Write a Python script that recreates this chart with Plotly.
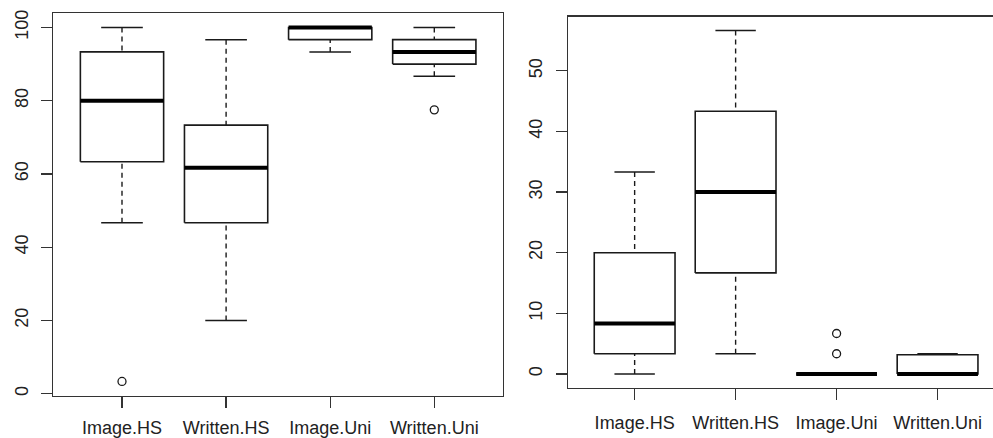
import plotly.graph_objects as go

categories = ["Image.HS", "Written.HS", "Image.Uni", "Written.Uni"]

# Left panel (five-number summaries)
left_lower = [46.67, 20.0, 93.33, 86.67]
left_q1 = [63.33, 46.67, 96.67, 90.0]
left_median = [80.0, 61.67, 100.0, 93.33]
left_q3 = [93.33, 73.33, 100.0, 96.67]
left_upper = [100.0, 96.67, 100.0, 100.0]
left_outlier_cat = [1, 4]
left_outlier_val = [3.33, 77.5]

# Right panel
right_lower = [0.0, 3.33, 0.0, 0.0]
right_q1 = [3.33, 16.67, 0.0, 0.0]
right_median = [8.33, 30.0, 0.0, 0.0]
right_q3 = [20.0, 43.33, 0.0, 3.17]
right_upper = [33.33, 56.67, 0.0, 3.33]
right_outlier_cat = [3, 3]
right_outlier_val = [6.67, 3.33]

left_ticks = [0, 20, 40, 60, 80, 100]
right_ticks = [0, 10, 20, 30, 40, 50]

INK = "#1a1a1a"
HALF = 0.4   # half box width (boxwex 0.8)
CAP = 0.2    # half staple width


def add_boxes(fig, xa, ya, lower, q1, med, q3, upper, oc, ov):
    bx, by, wx, wy, cx, cy, mx, my = [], [], [], [], [], [], [], []
    for i in range(len(categories)):
        x = i + 1
        bx += [x - HALF, x + HALF, x + HALF, x - HALF, x - HALF, None]
        by += [q1[i], q1[i], q3[i], q3[i], q1[i], None]
        wx += [x, x, None, x, x, None]
        wy += [upper[i], q3[i], None, lower[i], q1[i], None]
        cx += [x - CAP, x + CAP, None, x - CAP, x + CAP, None]
        cy += [upper[i], upper[i], None, lower[i], lower[i], None]
        mx += [x - HALF, x + HALF, None]
        my += [med[i], med[i], None]
    common = dict(xaxis=xa, yaxis=ya, mode="lines", hoverinfo="skip", showlegend=False)
    fig.add_trace(go.Scatter(x=wx, y=wy, line=dict(color=INK, width=1.4, dash="5px,4px"), **common))
    fig.add_trace(go.Scatter(x=cx, y=cy, line=dict(color=INK, width=1.5), **common))
    fig.add_trace(go.Scatter(x=bx, y=by, line=dict(color=INK, width=1.6), **common))
    fig.add_trace(go.Scatter(x=mx, y=my, line=dict(color="black", width=4), **common))
    fig.add_trace(go.Scatter(x=oc, y=ov, xaxis=xa, yaxis=ya, mode="markers", hoverinfo="skip",
                             showlegend=False,
                             marker=dict(symbol="circle-open", size=8, color=INK,
                                         line=dict(width=1.3, color=INK))))


fig = go.Figure()
add_boxes(fig, "x", "y", left_lower, left_q1, left_median, left_q3, left_upper,
          left_outlier_cat, left_outlier_val)
add_boxes(fig, "x2", "y2", right_lower, right_q1, right_median, right_q3, right_upper,
          right_outlier_cat, right_outlier_val)

tickfont = dict(family="Liberation Sans, Arial, sans-serif", size=18, color="#222222")
axis_common = dict(showgrid=False, zeroline=False, showline=True, linecolor="#333333",
                   linewidth=1.4, ticks="outside", ticklen=11, tickwidth=1.3,
                   tickcolor="#333333", tickfont=tickfont, fixedrange=True,
                   automargin=False)

W, H = 993, 438
fig.update_layout(
    width=W, height=H, autosize=False,
    margin=dict(l=0, r=0, t=0, b=0, autoexpand=False),
    paper_bgcolor="white", plot_bgcolor="white",
    showlegend=False,
    xaxis=dict(domain=[53.3 / W, 503 / W], range=[0.34, 4.66], tickvals=[1, 2, 3, 4],
               ticktext=categories, mirror=True, anchor="y", ticklabelstandoff=4,
               **axis_common),
    yaxis=dict(domain=[(H - 395.7) / H, (H - 13.3) / H], range=[-0.57, 103.87],
               tickvals=left_ticks, tickangle=-90, mirror=True, anchor="x",
               ticklabelstandoff=6, **axis_common),
    xaxis2=dict(domain=[568 / W, 1.0], range=[0.34, 4.549], tickvals=[1, 2, 3, 4],
                ticktext=categories, mirror=True, anchor="y2", ticklabelstandoff=7,
                **axis_common),
    yaxis2=dict(domain=[(H - 387.7) / H, (H - 16.7) / H], range=[-2.27, 58.93],
                tickvals=right_ticks, tickangle=-90, mirror=False, anchor="x2",
                ticklabelstandoff=6, **axis_common),
)

fig.write_html(
    "out.html",
    config={"displayModeBar": False, "staticPlot": True},
    post_script="document.body.style.margin='0';document.body.style.padding='0';"
                "document.documentElement.style.overflow='hidden';",
)
